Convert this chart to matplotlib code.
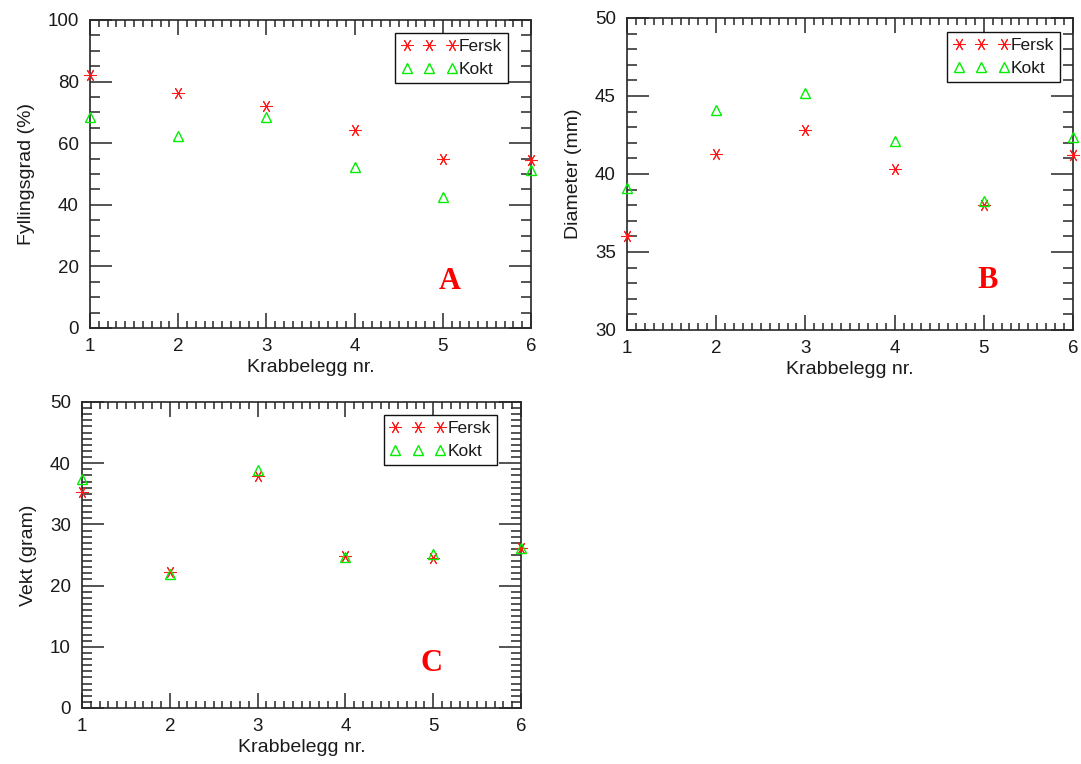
import matplotlib
matplotlib.use("Agg")
import matplotlib.pyplot as plt
from matplotlib.ticker import MultipleLocator

plt.rcParams['font.family'] = ['Liberation Sans', 'DejaVu Sans']
plt.rcParams['font.size'] = 13.5

# Crab-shell samples 1..6, fresh (Fersk) vs boiled (Kokt)
egg_nr = [1, 2, 3, 4, 5, 6]

fill_fersk = [82.1, 76.2, 72.2, 64.2, 54.9, 54.7]
fill_kokt = [68.4, 62.3, 68.4, 52.4, 42.5, 51.4]

diam_fersk = [36.0, 41.3, 42.8, 40.35, 38.0, 41.2]
diam_kokt = [39.1, 44.1, 45.2, 42.1, 38.3, 42.4]

vekt_fersk = [35.3, 22.3, 37.9, 24.9, 24.5, 26.1]
vekt_kokt = [37.5, 21.9, 38.9, 24.7, 25.2, 26.1]

xlabel = "Krabbelegg nr."

W, H = 1081, 764
fig = plt.figure(figsize=(W / 100, H / 100), dpi=100)


def px_axes(left, top, right, bottom):
    return fig.add_axes([left / W, 1 - bottom / H, (right - left) / W, (bottom - top) / H])


AX_COL = '#262626'
STAR = (6, 2, 90)


def style(ax, ylim, ymaj, ymin, ylabel, letter, letter_pos, leg_anchor):
    ax.set_xlim(1, 6)
    ax.set_ylim(*ylim)
    ax.xaxis.set_major_locator(MultipleLocator(1))
    ax.xaxis.set_minor_locator(MultipleLocator(0.1))
    ax.yaxis.set_major_locator(MultipleLocator(ymaj))
    ax.yaxis.set_minor_locator(MultipleLocator(ymin))
    for s in ax.spines.values():
        s.set_color(AX_COL)
        s.set_linewidth(1.2)
    ax.tick_params(axis='both', which='both', direction='in', top=True, right=True,
                   color=AX_COL, width=1.1, labelcolor='#1a1a1a')
    ax.tick_params(axis='y', which='major', length=15.5, pad=8)
    ax.tick_params(axis='y', which='minor', length=7.5)
    ax.tick_params(axis='x', which='major', length=10.5, pad=7)
    ax.tick_params(axis='x', which='minor', length=5)
    ax.set_xlabel(xlabel, labelpad=3, fontsize=14, color='#1a1a1a')
    ax.set_ylabel(ylabel, labelpad=9, fontsize=14, color='#1a1a1a')
    ax.text(letter_pos[0], letter_pos[1], letter, transform=ax.transAxes,
            ha='center', va='center', color='#ff0000', fontsize=22,
            fontweight='bold', family='Liberation Serif')
    leg = ax.legend(loc='upper right', bbox_to_anchor=leg_anchor, borderaxespad=0,
                    numpoints=3, handlelength=3.2, handletextpad=0.1,
                    fancybox=False, framealpha=1, edgecolor='#111111',
                    borderpad=0.35, labelspacing=0.45, fontsize=12.5)
    leg.get_frame().set_linewidth(1.0)
    for t in leg.get_texts():
        t.set_color('#1a1a1a')


def scatter(ax, xs, fersk, kokt):
    ax.plot(xs, fersk, linestyle='none', marker=STAR, markersize=9,
            markeredgecolor='#ff1a1a', markeredgewidth=0.75, color='#ff1a1a',
            label='Fersk', clip_on=False, zorder=3)
    ax.plot(xs, kokt, linestyle='none', marker='^', markersize=7.5,
            markerfacecolor='none', markeredgecolor='#00ee00', markeredgewidth=1.0,
            label='Kokt', clip_on=False, zorder=3)


axA = px_axes(90, 20, 531, 328)
scatter(axA, egg_nr, fill_fersk, fill_kokt)
style(axA, (0, 100), 20, 5, "Fyllingsgrad (%)", "A", (0.816, 0.15), (0.948, 0.958))

axB = px_axes(627, 18, 1073, 330)
scatter(axB, egg_nr, diam_fersk, diam_kokt)
style(axB, (30, 50), 5, 1, "Diameter (mm)", "B", (0.808, 0.16), (0.971, 0.955))

axC = px_axes(82, 402, 521, 708)
scatter(axC, egg_nr, vekt_fersk, vekt_kokt)
style(axC, (0, 50), 10, 1, "Vekt (gram)", "C", (0.795, 0.144), (0.945, 0.958))

fig.savefig("out.png", dpi=100, facecolor='white')
